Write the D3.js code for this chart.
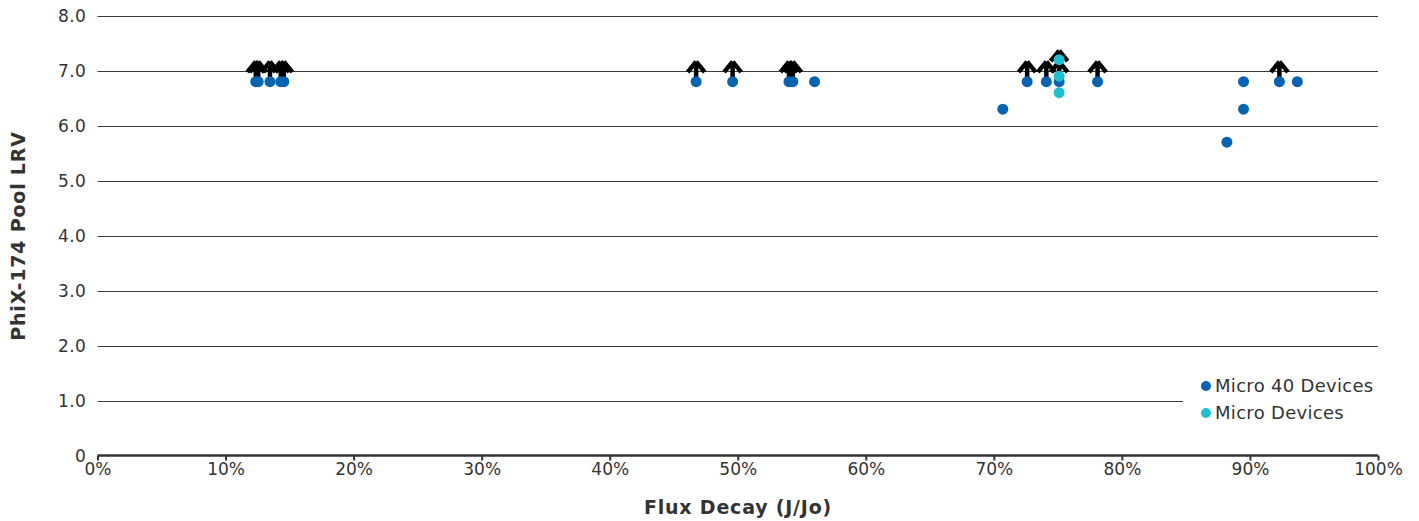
<!DOCTYPE html>
<html>
<head>
<meta charset="utf-8">
<script src="https://cdn.jsdelivr.net/npm/d3@7"></script>
<style>
  html, body { margin: 0; padding: 0; background: #fff; }
  svg { display: block; font-family: "DejaVu Sans", Verdana, sans-serif; }
</style>
</head>
<body>
<div id="chart"></div>
<script>
// flux decay (fraction) and LRV
const micro40X = [0.1236, 0.1255, 0.1347, 0.1431, 0.1455, 0.4675, 0.496, 0.540, 0.543, 0.560,
  0.707, 0.726, 0.741, 0.751, 0.781, 0.882, 0.895, 0.895, 0.923, 0.937];
const micro40Y = [6.8, 6.8, 6.8, 6.8, 6.8, 6.8, 6.8, 6.8, 6.8, 6.8,
  6.3, 6.8, 6.8, 6.8, 6.8, 5.7, 6.8, 6.3, 6.8, 6.8];
const microX = [0.751, 0.751, 0.751];
const microY = [7.2, 6.9, 6.6];
// "greater than" arrows
const arrowX = [0.1236, 0.1255, 0.1347, 0.1431, 0.1455, 0.4675, 0.496, 0.540, 0.543,
  0.726, 0.741, 0.751, 0.751, 0.781, 0.923];
const arrowY = [7.0, 7.0, 7.0, 7.0, 7.0, 7.0, 7.0, 7.0, 7.0,
  7.0, 7.0, 7.0, 7.2, 7.0, 7.0];
const yTicks = [0, 1, 2, 3, 4, 5, 6, 7, 8];
const xTicks = [0, 0.1, 0.2, 0.3, 0.4, 0.5, 0.6, 0.7, 0.8, 0.9, 1.0];
const seriesNames = ['Micro 40 Devices', 'Micro Devices'];
const seriesColors = ['#0563b0', '#20bfd0'];

const width = 1419;
const height = 521;

const x = d3.scaleLinear().domain([0, 1]).range([97.5, 1378]);
const y = d3.scaleLinear().domain([0, 8]).range([455.5, 15.7]);

const svg = d3.select('#chart').append('svg')
    .attr('width', width)
    .attr('height', height);

// gridlines
svg.append('g')
    .selectAll('line')
    .data(yTicks.filter((d) => d > 0))
    .join('line')
    .attr('x1', x(0))
    .attr('x2', x(1))
    .attr('y1', (d) => Math.round(y(d)) + 0.5)
    .attr('y2', (d) => Math.round(y(d)) + 0.5)
    .attr('stroke', '#3a3a3a')
    .attr('stroke-width', 1);

// y labels
svg.append('g')
    .selectAll('text')
    .data(yTicks)
    .join('text')
    .attr('x', 86)
    .attr('y', (d) => y(d))
    .attr('dy', '0.36em')
    .attr('text-anchor', 'end')
    .attr('font-size', 17)
    .attr('letter-spacing', 0.3)
    .attr('fill', '#333')
    .text((d) => d === 0 ? '0' : d3.format('.1f')(d));

// x axis
const xAxis = svg.append('g')
    .attr('transform', `translate(0,${y(0)})`)
    .call(d3.axisBottom(x).tickValues(xTicks).tickFormat(d3.format('.0%'))
        .tickSize(5).tickPadding(2));
xAxis.select('.domain').attr('stroke', '#333').attr('stroke-width', 2.5)
    .attr('d', `M${x(0)},0H${x(1)}`);
xAxis.selectAll('.tick line').attr('stroke', '#333').attr('stroke-width', 2);
xAxis.selectAll('.tick text')
    .attr('font-size', 17)
    .attr('font-family', '"DejaVu Sans", Verdana, sans-serif')
    .attr('fill', '#333');

// axis titles
svg.append('text')
    .attr('x', 738)
    .attr('y', 514)
    .attr('text-anchor', 'middle')
    .attr('font-size', 19)
    .attr('letter-spacing', 0.8)
    .attr('font-weight', 'bold')
    .attr('fill', '#333')
    .text('Flux Decay (J/Jo)');

svg.append('text')
    .attr('transform', 'translate(25,236) rotate(-90)')
    .attr('text-anchor', 'middle')
    .attr('font-size', 19)
    .attr('letter-spacing', 0.8)
    .attr('font-weight', 'bold')
    .attr('fill', '#333')
    .text('PhiX-174 Pool LRV');

// arrows
const arrowPath = 'M0,-9 L-8.5,1.5 M0,-9 L8.5,1.5 M0,-9 L0,10';
svg.append('g')
    .selectAll('path')
    .data(d3.range(arrowX.length))
    .join('path')
    .attr('transform', (i) => `translate(${x(arrowX[i])},${y(arrowY[i])})`)
    .attr('d', arrowPath)
    .attr('fill', 'none')
    .attr('stroke', '#000')
    .attr('stroke-width', 4.5);

// points
svg.append('g')
    .selectAll('circle')
    .data(d3.range(micro40X.length))
    .join('circle')
    .attr('cx', (i) => x(micro40X[i]))
    .attr('cy', (i) => y(micro40Y[i]))
    .attr('r', 5.5)
    .attr('fill', seriesColors[0]);

svg.append('g')
    .selectAll('circle')
    .data(d3.range(microX.length))
    .join('circle')
    .attr('cx', (i) => x(microX[i]))
    .attr('cy', (i) => y(microY[i]))
    .attr('r', 5.5)
    .attr('fill', seriesColors[1]);

// legend
const legend = svg.append('g').attr('transform', 'translate(1183,372)');
legend.append('rect')
    .attr('width', 210)
    .attr('height', 56)
    .attr('fill', '#fff');
const item = legend.selectAll('g')
    .data(seriesNames)
    .join('g')
    .attr('transform', (d, i) => `translate(0,${14 + i * 27})`);
item.append('circle')
    .attr('cx', 23)
    .attr('cy', 0)
    .attr('r', 5)
    .attr('fill', (d, i) => seriesColors[i]);
item.append('text')
    .attr('x', 32)
    .attr('dy', '0.36em')
    .attr('font-size', 18)
    .attr('letter-spacing', 0.3)
    .attr('fill', '#333')
    .text((d) => d);
</script>
</body>
</html>
